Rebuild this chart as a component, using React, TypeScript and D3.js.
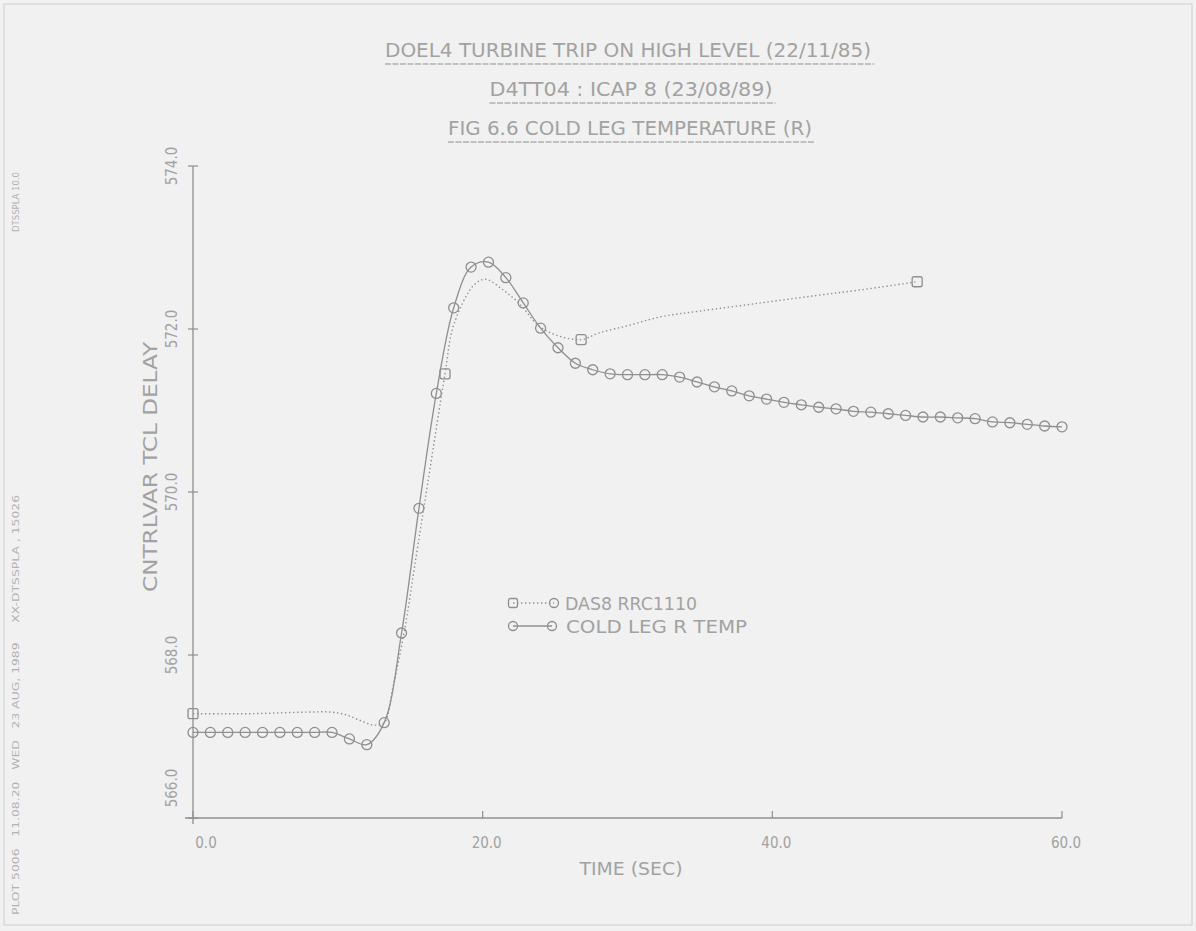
import React from "react";
import * as d3 from "d3";

// Plot titles and axis captions
const titleLines = [
  "DOEL4 TURBINE TRIP ON HIGH LEVEL (22/11/85)",
  "D4TT04 : ICAP 8 (23/08/89)",
  "FIG 6.6 COLD LEG TEMPERATURE (R)",
];
const xAxisTitle = "TIME (SEC)";
const yAxisTitle = "CNTRLVAR TCL DELAY";
const sideStampTop = "DTSSPLA 10.0";
const sideStampBottom = "PLOT 5006   11.08.20   WED   23 AUG, 1989     XX-DTSSPLA , 15026";

// Axis ticks
const xTicks = [0, 20, 40, 60];
const yTicks = [566, 568, 570, 572, 574];

// Series names
const seriesDas = "DAS8 RRC1110";
const seriesCold = "COLD LEG R TEMP";

// COLD LEG R TEMP: calculated cold leg temperature, one sample every 1.2 s
const coldTime = [
  0, 1.2, 2.4, 3.6, 4.8, 6.0, 7.2, 8.4, 9.6, 10.8,
  12.0, 13.2, 14.4, 15.6, 16.8, 18.0, 19.2, 20.4, 21.6, 22.8,
  24.0, 25.2, 26.4, 27.6, 28.8, 30.0, 31.2, 32.4, 33.6, 34.8,
  36.0, 37.2, 38.4, 39.6, 40.8, 42.0, 43.2, 44.4, 45.6, 46.8,
  48.0, 49.2, 50.4, 51.6, 52.8, 54.0, 55.2, 56.4, 57.6, 58.8, 60.0,
];
const coldTemp = [
  567.05, 567.05, 567.05, 567.05, 567.05, 567.05, 567.05, 567.05, 567.05, 566.97,
  566.90, 567.17, 568.27, 569.80, 571.21, 572.26, 572.76, 572.82, 572.63, 572.32,
  572.01, 571.77, 571.58, 571.50, 571.45, 571.44, 571.44, 571.44, 571.41, 571.35,
  571.29, 571.24, 571.18, 571.14, 571.10, 571.07, 571.04, 571.02, 570.99, 570.98,
  570.96, 570.94, 570.92, 570.92, 570.91, 570.90, 570.86, 570.85, 570.83, 570.81, 570.80,
];

// DAS8 RRC1110: measured plant data
const dasTime = [
  0, 2, 4, 6, 8, 9.5, 10.5, 11.5, 12.5, 13.2,
  13.8, 14.6, 15.4, 16.2, 17.4, 18.0, 19.4, 20.2, 21.4, 22.6,
  23.8, 25.0, 26.8, 28.0, 30.0, 32.3, 35.0, 39.2, 43.0, 46.1, 50.0,
];
const dasTemp = [
  567.28, 567.28, 567.28, 567.29, 567.30, 567.30, 567.27, 567.20, 567.14, 567.17,
  567.60, 568.30, 569.20, 570.10, 571.45, 572.05, 572.54, 572.61, 572.48, 572.30,
  572.05, 571.93, 571.87, 571.95, 572.04, 572.15, 572.22, 572.32, 572.41, 572.48, 572.58,
];
// samples of the measured trace that carry a plotting symbol
const dasMarkerTimes = [0, 17.4, 26.8, 50.0];

const W = 1196;
const H = 931;
const BG = "#f1f1f1";
const INK = "#8f8f8f";
const TXT = "#a2a2a2";
const FONT = "'DejaVu Sans Condensed', 'DejaVu Sans', sans-serif";

export default function App() {
  const x = d3.scaleLinear().domain([0, 60]).range([193, 1062]);
  const y = d3.scaleLinear().domain([566, 574]).range([818, 166]);

  const cold = coldTime.map((t, i) => ({ t, v: coldTemp[i] }));
  const das = dasTime.map((t, i) => ({ t, v: dasTemp[i] }));
  const dasMarks = das.filter((d) => dasMarkerTimes.includes(d.t));

  const line = d3
    .line<{ t: number; v: number }>()
    .x((d) => x(d.t))
    .y((d) => y(d.v))
    .curve(d3.curveCatmullRom.alpha(0.5));

  const titleY = [57, 96, 135];
  const titleLen = [486, 283, 364];
  const titleCx = [628, 631, 630];

  const [x0, x1] = x.range();
  const [y0, y1] = y.range();

  return (
    <div style={{ position: "absolute", left: 0, top: 0, width: W, height: H }}>
      <svg width={W} height={H} style={{ display: "block" }} fontFamily={FONT}>
        <rect x={0} y={0} width={W} height={H} fill={BG} />
        <rect x={4} y={4} width={W - 8} height={H - 10} fill="none" stroke="#d4d4d4" strokeWidth={1.2} />

        {/* titles with underlines */}
        {titleLines.map((s, i) => (
          <g key={s}>
            <text
              x={titleCx[i]}
              y={titleY[i]}
              textAnchor="middle"
              fontSize={20}
              fontWeight={200}
              fill={TXT}
              textLength={titleLen[i]}
              lengthAdjust="spacingAndGlyphs"
            >
              {s}
            </text>
            <line
              x1={titleCx[i] - titleLen[i] / 2}
              x2={titleCx[i] + titleLen[i] / 2 + 3}
              y1={titleY[i] + 7}
              y2={titleY[i] + 7}
              stroke={INK}
              strokeWidth={1}
              strokeDasharray="6 1.5"
            />
          </g>
        ))}

        {/* axes */}
        <line x1={x0 - 8} x2={x1} y1={y0} y2={y0} stroke={INK} strokeWidth={1.3} />
        <line x1={x0} x2={x0} y1={y0 + 6} y2={y1} stroke={INK} strokeWidth={1.3} />
        {xTicks.map((t) => (
          <g key={"xt" + t}>
            <line x1={x(t)} x2={x(t)} y1={y0} y2={y0 - 7} stroke={INK} strokeWidth={1.2} />
            <text
              x={x(t) + (t === 0 ? 13 : 4)}
              y={y0 + 30}
              textAnchor="middle"
              fontSize={15}
              fontWeight={200}
              fill={TXT}
            >
              {t.toFixed(1)}
            </text>
          </g>
        ))}
        {yTicks.map((v) => (
          <g key={"yt" + v}>
            <line x1={x0 - 5} x2={x0 + 5} y1={y(v)} y2={y(v)} stroke={INK} strokeWidth={1.2} />
            <text
              transform={`translate(${x0 - 16},${y(v) - (v === 566 ? 30 : 0)}) rotate(-90)`}
              textAnchor="middle"
              fontSize={15}
              fontWeight={200}
              fill={TXT}
            >
              {v.toFixed(1)}
            </text>
          </g>
        ))}
        <text
          x={631}
          y={875}
          textAnchor="middle"
          fontSize={18}
          fontWeight={200}
          fill={TXT}
          textLength={103}
          lengthAdjust="spacingAndGlyphs"
        >
          {xAxisTitle}
        </text>
        <text
          transform="translate(157,467) rotate(-90)"
          textAnchor="middle"
          fontSize={20}
          fontWeight={200}
          fill={TXT}
          textLength={250}
          lengthAdjust="spacingAndGlyphs"
        >
          {yAxisTitle}
        </text>

        {/* measured trace, dotted */}
        <path d={line(das) ?? ""} fill="none" stroke={INK} strokeWidth={1.4} strokeDasharray="1.4 2.6" />
        {dasMarks.map((d) => (
          <rect
            key={"dm" + d.t}
            x={x(d.t) - 5}
            y={y(d.v) - 5}
            width={10}
            height={10}
            rx={2}
            fill="none"
            stroke={INK}
            strokeWidth={1.3}
          />
        ))}

        {/* calculated trace, solid with circles */}
        <path d={line(cold) ?? ""} fill="none" stroke={INK} strokeWidth={1.3} />
        {cold.map((d) => (
          <circle key={"cm" + d.t} cx={x(d.t)} cy={y(d.v)} r={5} fill="none" stroke={INK} strokeWidth={1.3} />
        ))}

        {/* legend */}
        <g>
          <line x1={513} x2={554} y1={603} y2={603} stroke={INK} strokeWidth={1.4} strokeDasharray="1.4 2.6" />
          <rect x={508.5} y={598.5} width={9} height={9} rx={2} fill="none" stroke={INK} strokeWidth={1.3} />
          <circle cx={554} cy={603} r={4.5} fill="none" stroke={INK} strokeWidth={1.3} />
          <text
            x={565}
            y={610}
            fontSize={17}
            fontWeight={200}
            fill={TXT}
            textLength={132}
            lengthAdjust="spacingAndGlyphs"
          >
            {seriesDas}
          </text>
          <line x1={513} x2={552} y1={626} y2={626} stroke={INK} strokeWidth={1.3} />
          <circle cx={513} cy={626} r={4.5} fill="none" stroke={INK} strokeWidth={1.3} />
          <circle cx={552} cy={626} r={4.5} fill="none" stroke={INK} strokeWidth={1.3} />
          <text
            x={566}
            y={633}
            fontSize={17}
            fontWeight={200}
            fill={TXT}
            textLength={181}
            lengthAdjust="spacingAndGlyphs"
          >
            {seriesCold}
          </text>
        </g>

        {/* plotter stamp along the left margin */}
        <text
          transform="translate(19,202) rotate(-90)"
          textAnchor="middle"
          fontSize={9}
          fill="#b2b2b2"
          textLength={60}
          lengthAdjust="spacingAndGlyphs"
        >
          {sideStampTop}
        </text>
        <text
          transform="translate(19,705) rotate(-90)"
          textAnchor="middle"
          fontSize={9}
          fill="#b2b2b2"
          textLength={420}
          lengthAdjust="spacingAndGlyphs"
          style={{ whiteSpace: "pre" }}
        >
          {sideStampBottom}
        </text>
      </svg>
    </div>
  );
}
